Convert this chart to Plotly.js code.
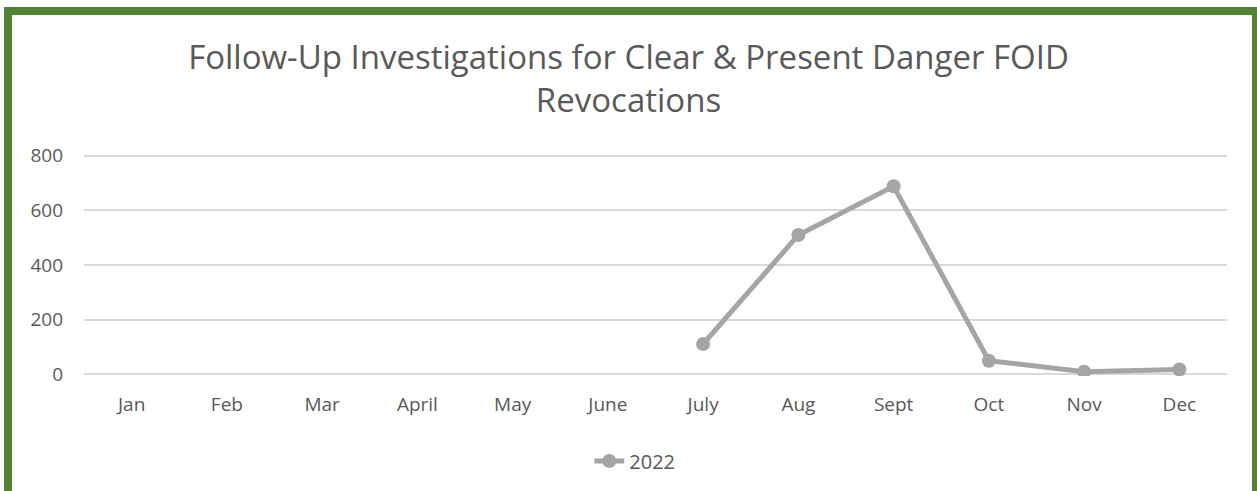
<!DOCTYPE html>
<html>
<head>
<meta charset="utf-8">
<script src="https://cdn.plot.ly/plotly-3.0.1.min.js"></script>
<style>
  html, body { margin: 0; padding: 0; background: #ffffff; overflow: hidden; }
  #frame { position: absolute; left: 4px; top: 7px; width: 1256px; height: 600px;
           box-sizing: border-box; border: 8px solid #548235; pointer-events: none; }
  #chart { position: absolute; left: 0; top: 0; width: 1257px; height: 491px; }
</style>
</head>
<body>
<div id="chart"></div>
<div id="frame"></div>
<script>
const months = ["Jan","Feb","Mar","April","May","June","July","Aug","Sept","Oct","Nov","Dec"];
const series2022 = [null,null,null,null,null,null,111,510,688,50,10,18];
const seriesName = "2022";
const chartTitle = "Follow-Up Investigations for Clear & Present Danger FOID<br>Revocations";
const yTicks = [0,200,400,600,800];

const FONT = "Open Sans, Liberation Sans, sans-serif";
const TEXT = "#595959";

const trace = {
  x: months,
  y: series2022,
  name: seriesName,
  type: "scatter",
  mode: "lines+markers",
  line: { color: "#a5a5a5", width: 5 },
  marker: { color: "#a5a5a5", size: 14 },
  connectgaps: false,
  showlegend: true
};

const layout = {
  width: 1257,
  height: 491,
  paper_bgcolor: "rgba(0,0,0,0)",
  plot_bgcolor: "rgba(0,0,0,0)",
  margin: { l: 84, r: 30, t: 154, b: 115 },
  font: { family: FONT, color: TEXT, size: 19 },
  title: {
    text: chartTitle,
    x: 0.5, xref: "container", xanchor: "center",
    y: 1 - 69 / 491, yref: "container", yanchor: "middle",
    font: { family: FONT, size: 33, color: TEXT }
  },
  xaxis: {
    type: "category",
    categoryarray: months,
    range: [-0.5, 11.5],
    showgrid: false,
    zeroline: false,
    showline: false,
    ticks: "",
    ticklabelstandoff: 15,
    tickfont: { family: FONT, size: 19, color: TEXT },
    fixedrange: true
  },
  yaxis: {
    range: [-6, 806],
    tickvals: yTicks,
    ticktext: yTicks.map(String),
    showgrid: true,
    gridcolor: "#d9d9d9",
    gridwidth: 2,
    zeroline: false,
    showline: false,
    ticks: "",
    ticklabelstandoff: 20,
    tickfont: { family: FONT, size: 19, color: TEXT },
    fixedrange: true
  },
  showlegend: true,
  legend: {
    orientation: "h",
    xref: "container", x: 0.505, xanchor: "center",
    yref: "container", y: 1 - 461 / 491, yanchor: "middle",
    font: { family: FONT, size: 20, color: TEXT },
    bgcolor: "rgba(0,0,0,0)"
  }
};

Plotly.newPlot("chart", [trace], layout, { displayModeBar: false, staticPlot: true });
</script>
</body>
</html>
